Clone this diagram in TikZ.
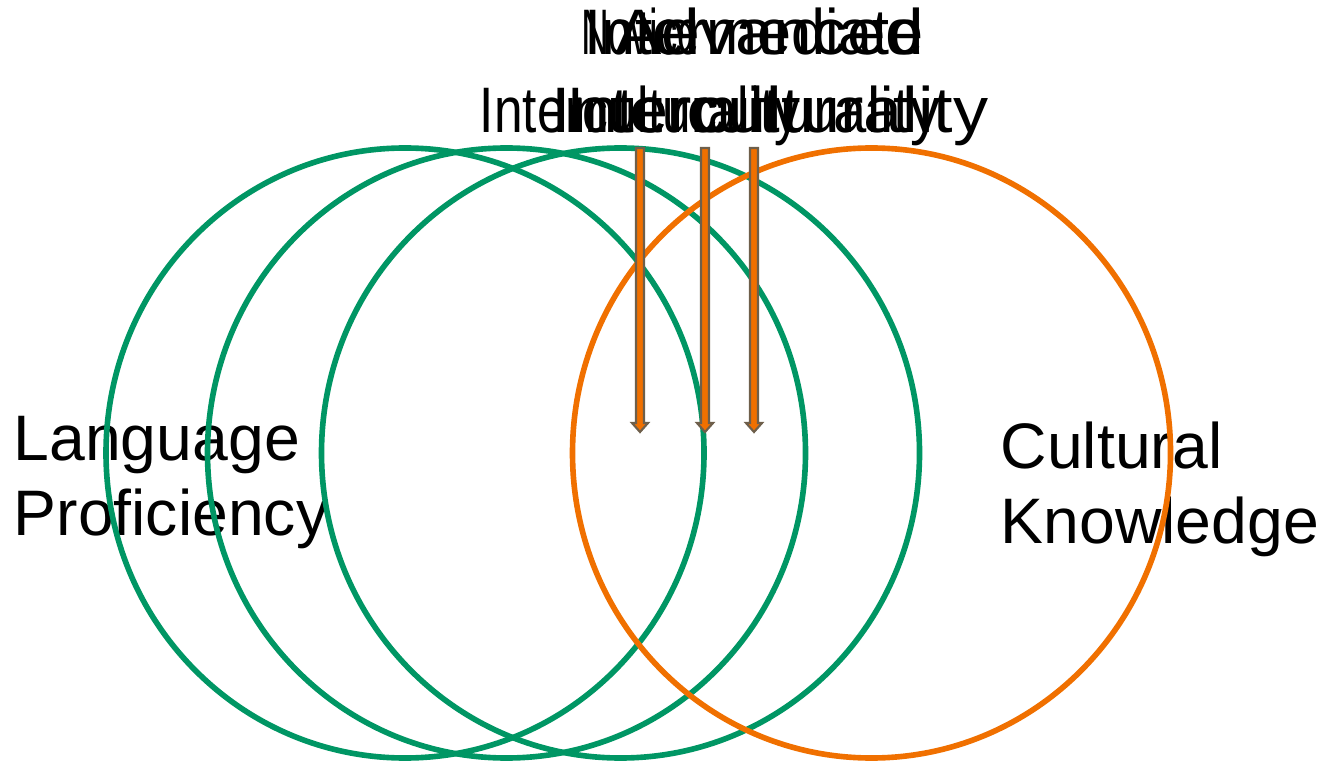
\documentclass[tikz,border=0pt]{standalone}
\usepackage{fontspec}
\setmainfont{Liberation Sans}
\usepackage{graphicx}
\usepackage{tikz}

\definecolor{vgreen}{RGB}{0,150,100}
\definecolor{vorange}{RGB}{240,112,0}
\definecolor{vbrown}{RGB}{110,95,75}

\begin{document}
\begin{tikzpicture}[
	ring/.style={line width=1.6pt},
	sidelabel/.style={inner sep=0pt, align=left, font=\fontsize{18.3}{21.3}\selectfont},
	toplabel/.style={inner sep=0pt, align=center, font=\fontsize{18.3}{22.2}\selectfont},
	downarrow/.style={fill=vorange, draw=vbrown, line width=0.6pt}
]
	%\draw[help lines, thick] (0,0) grid (13,7);
	\useasboundingbox (0,0) rectangle (13.23,7.62);
	\node[sidelabel, anchor=base west] (lang) at (0.13,2.27) {Language\\Proficiency};
	\node[sidelabel, anchor=base west] (cult) at (10.00,2.19) {Cultural\\Knowledge};
	\node[toplabel, anchor=base] (novice) at (6.40,6.29) {\scalebox{0.6}[1]{Novice}\\\scalebox{0.8}[1]{Interculturality}};
	\node[toplabel, anchor=base] (inter) at (7.54,6.29) {\scalebox{0.95}[1]{Intermediate}\\\scalebox{0.93}[1]{Interculturality}};
	\node[toplabel, anchor=base] (adv) at (7.70,6.29) {\scalebox{1.08}[1]{Advanced}\\\scalebox{1.09}[1]{Interculturality}};
	\draw[ring, vgreen] (4.05,3.09) circle [x radius=2.99, y radius=3.05];
	\draw[ring, vgreen] (5.065,3.09) circle [x radius=2.99, y radius=3.05];
	\draw[ring, vgreen] (6.205,3.09) circle [x radius=2.99, y radius=3.05];
	\draw[ring, vorange] (8.715,3.09) circle [x radius=2.99, y radius=3.05];
	\foreach \x in {6.40,7.05,7.54}
		\draw[downarrow] (\x-0.04,6.14) -- (\x+0.04,6.14) -- (\x+0.04,3.39) -- (\x+0.08,3.39)
			-- (\x,3.30) -- (\x-0.08,3.39) -- (\x-0.04,3.39) -- cycle;
\end{tikzpicture}
\end{document}
